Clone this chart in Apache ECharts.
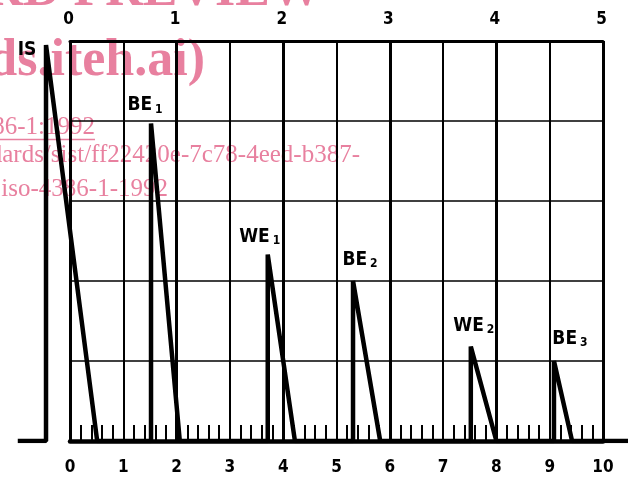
<!DOCTYPE html>
<html><head><meta charset="utf-8">
<script src="https://cdn.jsdelivr.net/npm/echarts@6/dist/echarts.min.js"></script>
<style>html,body{margin:0;padding:0;background:#fff}#c{width:628px;height:484px}</style>
</head><body><div id="c"></div>
<script>
// ---- data ----
const bottomTickLabels = ['0','1','2','3','4','5','6','7','8','9','10'];
const topTickLabels = ['0','1','2','3','4','5'];
const traceX = [-0.98,-0.45,-0.45,0.51,1.52,1.52,2.06,3.71,3.71,4.22,5.31,5.31,5.82,7.52,7.52,8.0,9.08,9.08,9.42,10.47];
const traceY = [0,0,4.95,0,0,3.97,0,0,2.33,0,0,2.0,0,0,1.18,0,0,1.0,0,0];
const peakNames = ['IS','BE','WE','BE','WE','BE'];
const peakSubs = ['','1','1','2','2','3'];
const peakX = [-0.45,1.52,3.71,5.31,7.52,9.08];
const peakY = [4.95,3.97,2.33,2.0,1.18,1.0];

// ---- styling / layout ----
const GRID_L = 70, GRID_R = 25, GRID_T = 41, GRID_B = 43, W = 628;
const unitPx = (W - GRID_L - GRID_R) / 10;
const labelOffsets = [[-19,5],[-6,-18],[-8,-18],[7,-21],[3,-21],[16,-22]];
const FONT = '"DejaVu Sans Condensed", "DejaVu Sans", sans-serif';
const PINK = '#e8809f';
const SERIF = '"Liberation Serif", "Times New Roman", serif';

const chart = echarts.init(document.getElementById('c'), null, {renderer:'canvas'});
chart.setOption({
  animation: false,
  backgroundColor: '#fff',
  grid: [
    {left: GRID_L, right: GRID_R, top: GRID_T, bottom: GRID_B},
    {left: 0, right: 0, top: GRID_T, bottom: GRID_B}
  ],
  xAxis: [
    {
      type: 'value', gridIndex: 0, position: 'bottom', min: 0, max: 10, interval: 1,
      axisLine: {show: true, onZero: false, lineStyle: {color: '#000', width: 4.5}},
      axisTick: {show: true, inside: true, length: 16, lineStyle: {color: '#000', width: 2}},
      minorTick: {show: true, splitNumber: 5, length: 16, lineStyle: {color: '#000', width: 2}},
      splitLine: {show: true, lineStyle: {color: '#000', width: 2}},
      axisLabel: {
        show: true, margin: 18, color: '#000', fontFamily: FONT, fontWeight: 'bold', fontSize: 17,
        formatter: v => bottomTickLabels[Math.round(v)] ?? ''
      }
    },
    {
      type: 'value', gridIndex: 0, position: 'top', min: 0, max: 5, interval: 1,
      axisLine: {show: true, onZero: false, lineStyle: {color: '#000', width: 3}},
      axisTick: {show: false},
      splitLine: {show: true, lineStyle: {color: '#000', width: 3}},
      axisLabel: {
        show: true, margin: 13, color: '#000', fontFamily: FONT, fontWeight: 'bold', fontSize: 17,
        padding: [0, 3, 0, 0],
        formatter: v => topTickLabels[Math.round(v)] ?? ''
      }
    },
    {
      type: 'value', gridIndex: 1, show: false,
      min: -GRID_L / unitPx, max: 10 + GRID_R / unitPx,
      splitLine: {show: false}
    }
  ],
  yAxis: [
    {
      type: 'value', gridIndex: 0, min: 0, max: 5, interval: 1,
      axisLine: {show: false}, axisTick: {show: false}, axisLabel: {show: false},
      splitLine: {show: true, lineStyle: {color: '#000', width: 1.5}}
    },
    {
      type: 'value', gridIndex: 1, min: 0, max: 5, show: false, splitLine: {show: false}
    }
  ],
  graphic: [
    {type: 'text', z: -10, x: 322, y: -8, style: {text: 'iTeh STANDARD PREVIEW', align: 'right', verticalAlign: 'middle', font: 'bold 52px ' + SERIF, fill: PINK}},
    {type: 'text', z: -10, x: 205, y: 62, style: {text: '(standards.iteh.ai)', align: 'right', verticalAlign: 'middle', font: 'bold 52px ' + SERIF, fill: PINK}},
    {type: 'text', z: -10, x: 95, y: 127, style: {text: 'ISO 4386-1:1992', align: 'right', verticalAlign: 'middle', font: '25px ' + SERIF, fill: PINK}},
    {type: 'line', z: -10, shape: {x1: 0, y1: 139.5, x2: 95, y2: 139.5}, style: {stroke: PINK, lineWidth: 1.5}},
    {type: 'text', z: -10, x: 360, y: 155, style: {text: 'https://standards.iteh.ai/catalog/standards/sist/ff22420e-7c78-4eed-b387-', align: 'right', verticalAlign: 'middle', font: '25px ' + SERIF, fill: PINK}},
    {type: 'text', z: -10, x: 168, y: 189, style: {text: 'iso-4386-1-1992', align: 'right', verticalAlign: 'middle', font: '25px ' + SERIF, fill: PINK}}
  ],
  series: [
    {
      type: 'line', name: 'trace', xAxisIndex: 2, yAxisIndex: 1,
      data: traceX.map((x, i) => [x, traceY[i]]),
      symbol: 'none', z: 5,
      lineStyle: {color: '#000', width: 4.5}
    },
    {
      type: 'scatter', name: 'peaks', xAxisIndex: 2, yAxisIndex: 1, symbolSize: 0, z: 6,
      itemStyle: {color: 'rgba(0,0,0,0)', opacity: 1},
      data: peakX.map((x, i) => ({
        value: [x, peakY[i]],
        label: {offset: labelOffsets[i]}
      })),
      label: {
        show: true, position: 'inside', align: 'center', verticalAlign: 'middle', color: '#000',
        opacity: 1, textBorderWidth: 0,
        formatter: p => {
          const i = p.dataIndex;
          return peakSubs[i] ? '{m|' + peakNames[i] + '}{s|' + peakSubs[i] + '}' : '{m|' + peakNames[i] + '}';
        },
        rich: {
          m: {fontFamily: FONT, fontWeight: 'bold', fontSize: 19, lineHeight: 20, color: '#000', textBorderWidth: 0},
          s: {fontFamily: FONT, fontWeight: 'bold', fontSize: 12, lineHeight: 12, verticalAlign: 'top', padding: [8, 0, 0, 3], color: '#000', textBorderWidth: 0}
        }
      }
    }
  ]
});
</script></body></html>
